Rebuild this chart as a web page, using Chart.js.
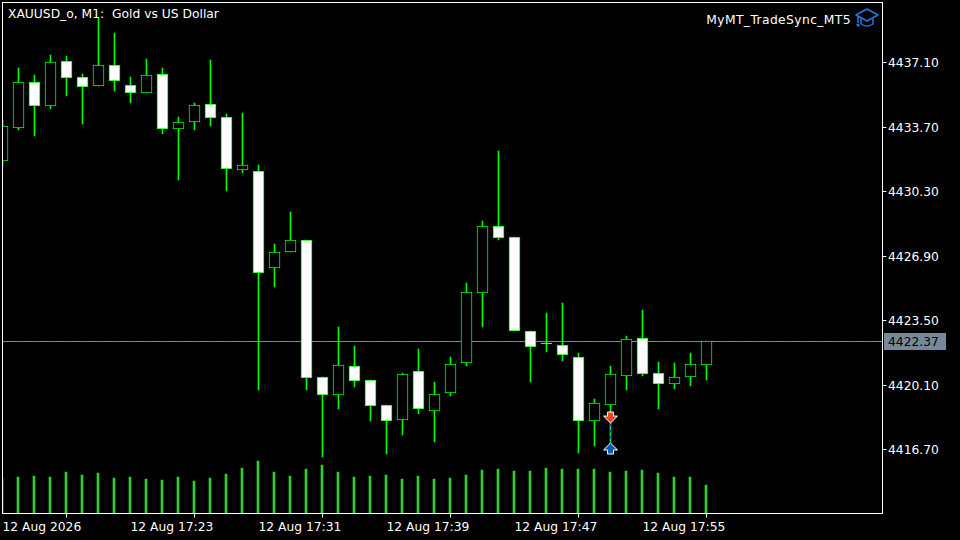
<!DOCTYPE html>
<html>
<head>
<meta charset="utf-8">
<title>XAUUSD_o, M1</title>
<style>
html,body{margin:0;padding:0;background:#000;overflow:hidden}
canvas{display:block}
</style>
<script src="https://cdn.jsdelivr.net/npm/chart.js@4/dist/chart.umd.min.js"></script>
</head>
<body>
<canvas id="chart" width="960" height="540" style="width:960px;height:540px"></canvas>
<script>
// one entry per minute, the last ten are the empty shift on the right
const times=['17:15','17:16','17:17','17:18','17:19','17:20','17:21','17:22','17:23','17:24','17:25','17:26','17:27','17:28',
'17:29','17:30','17:31','17:32','17:33','17:34','17:35','17:36','17:37','17:38','17:39','17:40','17:41','17:42','17:43','17:44',
'17:45','17:46','17:47','17:48','17:49','17:50','17:51','17:52','17:53','17:54','17:55','17:56','17:57','17:58','17:59',
'18:00','18:01','18:02','18:03','18:04','18:05','18:06','18:07','18:08','18:09','18:10'];
const opens=[4431.94,4433.67,4436.05,4434.83,4437.15,4436.31,4435.89,4436.94,4435.89,4435.52,4436.47,4433.62,4433.99,4434.89,4434.20,
4431.46,4431.36,4426.29,4427.14,4427.72,4420.50,4419.60,4421.08,4420.34,4419.02,4418.28,4420.81,4418.76,4419.70,4421.29,
4424.98,4428.46,4427.88,4422.92,4422.29,4422.18,4421.55,4418.23,4419.07,4420.60,4422.55,4420.71,4420.18,4420.55,4421.18];
const highs=[4434.04,4436.78,4436.42,4437.47,4437.42,4436.47,4439.42,4438.63,4436.31,4437.26,4436.78,4434.20,4434.94,4437.21,4434.36,
4434.41,4431.67,4427.51,4429.19,4427.72,4420.50,4423.13,4422.13,4420.34,4419.02,4420.71,4421.97,4420.23,4421.55,4425.45,
4428.72,4432.41,4427.88,4422.92,4423.87,4424.40,4421.76,4419.34,4421.08,4422.66,4424.03,4421.29,4421.23,4421.76,4422.37];
const lows=[4431.67,4433.57,4433.25,4434.68,4435.36,4433.89,4435.89,4435.63,4434.99,4435.52,4433.36,4430.93,4433.57,4433.78,4430.35,
4431.30,4419.86,4425.29,4427.14,4419.86,4416.33,4418.86,4420.02,4418.23,4416.49,4417.49,4418.60,4417.12,4419.55,4421.13,
4423.18,4427.77,4422.97,4420.29,4421.87,4421.39,4416.54,4416.91,4417.02,4419.86,4420.60,4418.86,4419.92,4420.07,4420.39];
const closes=[4433.73,4436.05,4434.83,4437.10,4436.31,4435.84,4436.94,4436.15,4435.52,4436.42,4433.62,4433.94,4434.83,4434.20,4431.51,
4431.67,4426.03,4427.09,4427.72,4420.50,4419.60,4421.13,4420.34,4419.02,4418.23,4420.65,4418.86,4419.60,4421.18,4424.98,
4428.46,4427.88,4422.97,4422.13,4422.29,4421.71,4418.23,4419.13,4420.65,4422.50,4420.71,4420.18,4420.50,4421.18,4422.37];
const volumes=[35,36,37,36,41,38,40,35,36,34,33,36,32,35,39,45,52,41,37,44,48,41,36,37,38,34,37,34,35,38,
43,44,42,42,45,44,44,44,41,42,43,40,36,36,28];
const priceTicks=[4416.70,4420.10,4423.50,4426.90,4430.30,4433.70,4437.10];
const timeTicks=['12 Aug 2026','12 Aug 17:23','12 Aug 17:31','12 Aug 17:39','12 Aug 17:47','12 Aug 17:55'];
const bid=4422.37;
const tradeTime='17:53';
const sellPrice=4418.07;
const buyPrice=4417.07;

const FONT='"DejaVu Sans"';
const FONT_SIZE=12.3;
const LIME='#00ff00';

// arrow tip sits in the middle of the sprite so the point is the trade price
function arrowSprite(fill,down){
  const c=document.createElement('canvas');c.width=15;c.height=26;
  const g=c.getContext('2d');
  g.save();
  if(!down){g.translate(0,26);g.scale(1,-1)}
  g.translate(0.5,0.5);
  g.beginPath();
  g.moveTo(4,1);g.lineTo(10,1);g.lineTo(10,5);g.lineTo(14,5);g.lineTo(7,12);g.lineTo(0,5);g.lineTo(4,5);g.closePath();
  g.fillStyle=fill;g.fill();
  g.strokeStyle='#fff';g.lineWidth=1;g.stroke();
  g.restore();
  return c;
}

// snap the bars to whole pixels so they stay sharp like the terminal
const snapPlugin={id:'snap',beforeDatasetsDraw(chart){
  chart.data.datasets.forEach((ds,i)=>{
    const meta=chart.getDatasetMeta(i);
    meta.data.forEach(el=>{
      if(ds.snap==='candle'){
        const top=Math.floor(Math.min(el.y,el.base));
        let bot=Math.ceil(Math.max(el.y,el.base));
        if(bot===top)bot=top+1;
        el.y=top;el.base=bot;
      }else if(ds.snap==='volume'){
        el.x=Math.floor(el.x);el.y=Math.floor(el.y);
      }else if(ds.snap==='bid'){
        el.y=Math.floor(el.y)+0.5;
      }
    });
  });
}};

const framePlugin={id:'frame',afterDatasetsDraw(chart){
  const {ctx,chartArea:a}=chart;
  ctx.save();
  ctx.strokeStyle='#fff';ctx.lineWidth=1;
  ctx.strokeRect(a.left,a.top,a.right-a.left,a.bottom-a.top);
  ctx.restore();
}};

const textPlugin={id:'texts',afterDraw(chart){
  const {ctx,scales}=chart;
  ctx.save();
  ctx.font=FONT_SIZE+'px '+FONT;
  ctx.fillStyle='#fff';ctx.textBaseline='alphabetic';
  ctx.textAlign='left';
  ctx.fillText('XAUUSD_o, M1:  Gold vs US Dollar',8,18);
  ctx.textAlign='right';
  ctx.letterSpacing='0.4px';
  ctx.fillText('MyMT_TradeSync_MT5',851,24);
  ctx.letterSpacing='0px';
  // bid label
  const cy=Math.floor(scales.y.getPixelForValue(bid))+0.5;
  ctx.fillStyle='#778899';
  ctx.fillRect(884,cy-8.5,62,17);
  ctx.fillStyle='#000';ctx.textAlign='left';ctx.textBaseline='middle';
  ctx.fillText(bid.toFixed(2),888,cy+1);
  // graduation cap
  ctx.strokeStyle='#1f7be0';ctx.lineWidth=1.5;ctx.lineJoin='round';
  ctx.beginPath();
  ctx.moveTo(867,9);ctx.lineTo(878,15);ctx.lineTo(867,21);ctx.lineTo(856,15);ctx.closePath();
  ctx.moveTo(861,19);ctx.lineTo(861,24);ctx.quadraticCurveTo(867,28,873,24);ctx.lineTo(873,19);
  ctx.moveTo(858,16);ctx.lineTo(858,23);
  ctx.stroke();
  ctx.fillStyle='#1f7be0';
  ctx.beginPath();ctx.arc(858,25,1.6,0,Math.PI*2);ctx.fill();
  ctx.restore();
}};

const canvas=document.getElementById('chart');
canvas.getContext('2d',{alpha:false});

new Chart(canvas,{
  type:'bar',
  data:{
    labels:times,
    datasets:[
      {type:'line',label:'Bid',data:times.map(()=>bid),borderColor:'#778899',borderWidth:1,pointRadius:0,order:5,snap:'bid'},
      {label:'Volume',data:volumes,yAxisID:'vol',backgroundColor:'#32cd32',barThickness:2,grouped:false,order:4,snap:'volume'},
      {label:'Wick',data:lows.map((l,i)=>[l,highs[i]]),backgroundColor:LIME,barThickness:1,grouped:false,order:3,snap:'candle'},
      {label:'Body',data:opens.map((o,i)=>[o,closes[i]]),
        backgroundColor:opens.map((o,i)=>closes[i]>o?'#000':'#fff'),
        borderColor:LIME,borderWidth:1,borderSkipped:false,barThickness:11,grouped:false,order:2,snap:'candle'},
      {type:'line',label:'Trade',data:[{x:tradeTime,y:sellPrice},{x:tradeTime,y:buyPrice}],
        borderColor:'#0a50d0',borderWidth:1,borderDash:[3,3],pointRadius:0,order:1},
      {type:'line',label:'Sell',data:[{x:tradeTime,y:sellPrice}],showLine:false,pointRadius:7,pointStyle:arrowSprite('#e2492a',true),order:0},
      {type:'line',label:'Buy',data:[{x:tradeTime,y:buyPrice}],showLine:false,pointRadius:7,pointStyle:arrowSprite('#0b5cad',false),order:0}
    ]
  },
  options:{
    responsive:false,
    animation:false,
    devicePixelRatio:1,
    layout:{autoPadding:false,padding:{left:2.5,top:2.5,right:0,bottom:0}},
    plugins:{legend:{display:false},tooltip:{enabled:false},title:{display:false}},
    scales:{
      x:{
        offset:false,
        afterBuildTicks(scale){scale.ticks=scale.ticks.filter(t=>t.value%8===0&&t.value<=40)},
        afterFit(scale){scale.height=26.5;scale.paddingLeft=0;scale.paddingRight=0},
        grid:{drawOnChartArea:false,drawTicks:true,tickLength:4,tickColor:'#fff'},
        border:{display:false},
        ticks:{autoSkip:false,maxRotation:0,align:'start',padding:3,color:'#fff',font:{family:FONT,size:FONT_SIZE},
          callback(v,i){return timeTicks[i]}}
      },
      y:{
        position:'right',
        min:4413.326,
        max:4440.264,
        afterBuildTicks(scale){scale.ticks=priceTicks.map(v=>({value:v}))},
        afterFit(scale){scale.width=77.5;scale.paddingTop=0;scale.paddingBottom=0},
        grid:{drawOnChartArea:false,drawTicks:true,tickLength:4,tickColor:'#fff'},
        border:{display:false},
        ticks:{padding:1.5,labelOffset:1.5,color:'#fff',font:{family:FONT,size:FONT_SIZE},callback(v){return v.toFixed(2)}}
      },
      vol:{display:false,min:0,max:511}
    }
  },
  plugins:[snapPlugin,framePlugin,textPlugin]
});
</script>
</body>
</html>
